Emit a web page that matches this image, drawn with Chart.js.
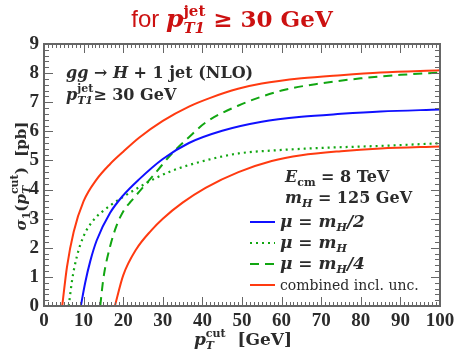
<!DOCTYPE html>
<html>
<head>
<meta charset="utf-8">
<script src="https://cdn.jsdelivr.net/npm/chart.js@4.4.0/dist/chart.umd.min.js"></script>
<style>
  html, body { margin: 0; padding: 0; background: #fff; }
  canvas { display: block; }
</style>
</head>
<body>
<canvas id="sigmachart" width="457" height="353"></canvas>
<script>
// sigma_1(pT cut) curves, x in GeV, y in pb
const xHalf = [9.3, 10.4, 11.7, 13.3, 16.7, 20, 24, 30, 36.6, 45, 55, 65, 75, 85, 100];
const yHalf = [0, 0.8, 1.55, 2.25, 3.2, 3.8, 4.35, 5.05, 5.6, 6.02, 6.33, 6.5, 6.6, 6.68, 6.75];

const xOne = [6.25, 7.1, 8.3, 10, 12.5, 16.7, 20, 24, 28, 32.4, 40.8, 49.1, 60, 72, 85, 100];
const yOne = [0, 0.89, 1.7, 2.4, 2.95, 3.45, 3.75, 4.08, 4.38, 4.65, 5.0, 5.24, 5.36, 5.44, 5.5, 5.59];

const xQuarter = [14.2, 15, 16.7, 18.3, 20, 22, 24, 28, 32.4, 36.6, 40.8, 49, 60, 70, 80, 90, 100];
const yQuarter = [0, 0.95, 2.05, 2.75, 3.25, 3.6, 3.92, 4.55, 5.25, 5.8, 6.3, 6.88, 7.4, 7.65, 7.82, 7.94, 8.02];

const xUncHi = [4.6, 5.8, 7.5, 10, 13.3, 16.7, 20, 24, 30, 36.6, 42, 49, 55, 65, 75, 85, 100];
const yUncHi = [0, 1.34, 2.55, 3.6, 4.35, 4.88, 5.3, 5.78, 6.36, 6.85, 7.15, 7.46, 7.64, 7.82, 7.93, 8.02, 8.1];

const xUncLo = [17.9, 20, 23.3, 27.1, 30, 35, 40.8, 49.1, 57.5, 65, 75, 85, 100];
const yUncLo = [0, 1.05, 1.95, 2.6, 3.0, 3.55, 4.06, 4.6, 4.98, 5.18, 5.32, 5.41, 5.48];

const xRange = [0, 100];
const yRange = [0, 9];

const SERIF = '"DejaVu Serif"';
const TICKFONT = { family: '"Liberation Serif"', size: 19, weight: 'bold' };
const TXT = '#2b2b2b';
const RED = '#ff3a10';
const BLUE = '#1010ff';
const GREEN = '#11a611';

function pts(xs, ys) {
    return xs.map((x, i) => ({x: x, y: ys[i]}));
}

// draw text made of pieces (sub/superscripts); a piece with hold:true
// does not move the pen, so the next piece stacks on top of it
function richWidth(ctx, parts) {
    let w = 0, held = 0;
    parts.forEach(p => {
        ctx.font = p.f;
        const pw = ctx.measureText(p.t).width;
        if (p.hold) { held = pw; } else { w += Math.max(pw, held); held = 0; }
    });
    return w;
}
function rich(ctx, parts, x, y, align) {
    let cx = align === 'center' ? x - richWidth(ctx, parts) / 2 : x;
    let held = 0;
    ctx.textAlign = 'left';
    ctx.textBaseline = 'alphabetic';
    parts.forEach(p => {
        ctx.font = p.f;
        ctx.fillText(p.t, cx, y + (p.dy || 0));
        const pw = ctx.measureText(p.t).width;
        if (p.hold) { held = pw; } else { cx += Math.max(pw, held); held = 0; }
    });
}

const B17 = 'bold 17px ' + SERIF;
const I17 = 'italic bold 17px ' + SERIF;
const B16 = 'bold 16px ' + SERIF;
const I16 = 'italic bold 16px ' + SERIF;
const B15 = 'bold 15px ' + SERIF;
const I15 = 'italic bold 15px ' + SERIF;
const B11 = 'bold 11px ' + SERIF;
const I11 = 'italic bold 11px ' + SERIF;

const decor = {
    id: 'decor',
    afterDraw(chart) {
        const ctx = chart.ctx;
        const a = chart.chartArea;
        const sx = chart.scales.x, sy = chart.scales.y;
        ctx.save();

        // inside ticks on all four sides
        ctx.strokeStyle = '#666';
        ctx.lineWidth = 1;
        ctx.beginPath();
        for (let v = 0; v <= 100; v++) {
            const px = Math.round(sx.getPixelForValue(v)) + 0.5;
            const len = v % 10 === 0 ? 9 : 4;
            ctx.moveTo(px, a.bottom); ctx.lineTo(px, a.bottom - len);
            ctx.moveTo(px, a.top); ctx.lineTo(px, a.top + len);
        }
        for (let i = 0; i <= 45; i++) {
            const py = Math.round(sy.getPixelForValue(i / 5)) + 0.5;
            const len = i % 5 === 0 ? 9 : 5;
            ctx.moveTo(a.left, py); ctx.lineTo(a.left + len, py);
            ctx.moveTo(a.right, py); ctx.lineTo(a.right - len, py);
        }
        ctx.stroke();
        ctx.lineWidth = 2;
        ctx.strokeRect(a.left, a.top, a.right - a.left, a.bottom - a.top);

        // title
        ctx.fillStyle = '#cc1111';
        rich(ctx, [
            {t: 'for ', f: '24px "Liberation Sans"'},
            {t: 'p', f: 'italic bold 25px ' + SERIF},
            {t: 'jet', f: 'bold 15px ' + SERIF, dy: -11, hold: true},
            {t: 'T1', f: 'italic bold 15px ' + SERIF, dy: 6},
            {t: ' \u2265 30 GeV', f: 'bold 23px ' + SERIF}
        ], 232, 27, 'center');

        ctx.fillStyle = TXT;
        // axis titles
        rich(ctx, [
            {t: 'p', f: I17},
            {t: 'cut', f: B11, dy: -8, hold: true},
            {t: 'T', f: I11, dy: 4},
            {t: '  [GeV]', f: B17}
        ], 243, 345, 'center');
        ctx.save();
        ctx.translate(26, 176);
        ctx.rotate(-Math.PI / 2);
        rich(ctx, [
            {t: '\u03c3', f: I15},
            {t: '1', f: B11, dy: 4},
            {t: '(', f: B15},
            {t: 'p', f: I15},
            {t: 'cut', f: B11, dy: -8, hold: true},
            {t: 'T', f: I11, dy: 4},
            {t: ')  [pb]', f: B15}
        ], 0, 0, 'center');
        ctx.restore();

        // process labels
        rich(ctx, [
            {t: 'gg', f: I16}, {t: ' \u2192 ', f: B16}, {t: 'H', f: I16},
            {t: ' + 1 jet (NLO)', f: B16}
        ], 66, 78);
        rich(ctx, [
            {t: 'p', f: I16},
            {t: 'jet', f: B11, dy: -8, hold: true},
            {t: 'T1', f: I11, dy: 4},
            {t: '\u2265 30 GeV', f: B16}
        ], 66, 100);
        rich(ctx, [
            {t: 'E', f: I16}, {t: 'cm', f: B11, dy: 4}, {t: ' = 8 TeV', f: B16}
        ], 285, 182);
        rich(ctx, [
            {t: 'm', f: I16}, {t: 'H', f: I11, dy: 4}, {t: ' = 125 GeV', f: B16}
        ], 285, 203);

        // legend
        const rows = [
            {ds: 0, y: 227, parts: [{t: '\u03bc', f: I17}, {t: ' = ', f: B17}, {t: 'm', f: I17}, {t: 'H', f: I11, dy: 4}, {t: '/2', f: I17}]},
            {ds: 1, y: 248, parts: [{t: '\u03bc', f: I17}, {t: ' = ', f: B17}, {t: 'm', f: I17}, {t: 'H', f: I11, dy: 4}]},
            {ds: 2, y: 269, parts: [{t: '\u03bc', f: I17}, {t: ' = ', f: B17}, {t: 'm', f: I17}, {t: 'H', f: I11, dy: 4}, {t: '/4', f: I17}]},
            {ds: 3, y: 290, parts: [{t: 'combined incl. unc.', f: '14px ' + SERIF}]}
        ];
        rows.forEach(r => {
            const d = chart.data.datasets[r.ds];
            ctx.save();
            ctx.strokeStyle = d.borderColor;
            ctx.lineWidth = d.borderWidth;
            ctx.setLineDash(d.borderDash || []);
            ctx.beginPath();
            ctx.moveTo(250, r.y - 5);
            ctx.lineTo(275, r.y - 5);
            ctx.stroke();
            ctx.restore();
            rich(ctx, r.parts, 280, r.y);
        });
        ctx.restore();
    }
};

const ctx = document.getElementById('sigmachart').getContext('2d');
const sigmachart = new Chart(ctx, {
    type: 'line',
    data: {
        datasets: [{
            label: 'mu = mH/2',
            data: pts(xHalf, yHalf),
            borderColor: BLUE,
            borderWidth: 2
        }, {
            label: 'mu = mH',
            data: pts(xOne, yOne),
            borderColor: GREEN,
            borderWidth: 2.2,
            borderDash: [2, 4]
        }, {
            label: 'mu = mH/4',
            data: pts(xQuarter, yQuarter),
            borderColor: GREEN,
            borderWidth: 2,
            borderDash: [9, 6]
        }, {
            label: 'combined incl. unc.',
            data: pts(xUncHi, yUncHi),
            borderColor: RED,
            borderWidth: 2
        }, {
            label: 'combined lower',
            data: pts(xUncLo, yUncLo),
            borderColor: RED,
            borderWidth: 2
        }]
    },
    options: {
        responsive: false,
        animation: false,
        devicePixelRatio: 1,
        layout: { padding: { top: 44, right: 17, left: 0, bottom: 0 } },
        elements: {
            point: { radius: 0 },
            line: { cubicInterpolationMode: 'monotone', fill: false }
        },
        plugins: {
            legend: { display: false },
            tooltip: { enabled: false }
        },
        scales: {
            x: {
                type: 'linear',
                min: xRange[0], max: xRange[1],
                ticks: { stepSize: 10, color: TXT, font: TICKFONT, padding: 4, maxRotation: 0 },
                grid: { display: false, drawTicks: false, tickLength: 0 },
                border: { display: false },
                afterFit: s => { s.height = 47; s.paddingLeft = 0; s.paddingRight = 0; }
            },
            y: {
                min: yRange[0], max: yRange[1],
                ticks: { stepSize: 1, color: TXT, font: TICKFONT, padding: 5 },
                grid: { display: false, drawTicks: false, tickLength: 0 },
                border: { display: false },
                afterFit: s => { s.width = 44; s.paddingTop = 0; s.paddingBottom = 0; }
            }
        }
    },
    plugins: [decor]
});
</script>
</body>
</html>
